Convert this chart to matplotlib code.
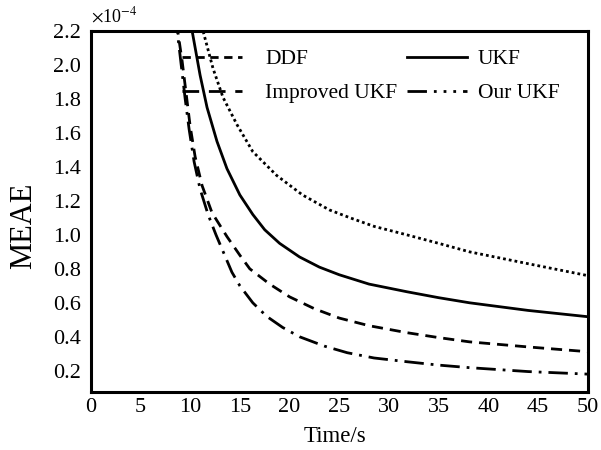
import matplotlib
matplotlib.use("Agg")
import matplotlib.pyplot as plt
from matplotlib.lines import Line2D

plt.rcParams['font.family'] = ['Liberation Serif', 'DejaVu Serif']
plt.rcParams['mathtext.fontset'] = 'stix'

# values (MEAE in units of 1e-4)
t_ddf = [8.5, 8.75, 9.2, 9.6, 10.0, 10.5, 11.2, 12.2, 13.7, 15, 16, 18, 20, 22.5, 25, 28, 31.8, 35, 38.1, 44, 50]
y_ddf = [2.35, 2.2, 2.02, 1.83, 1.64, 1.46, 1.29, 1.13, 0.99, 0.88, 0.80, 0.71, 0.635, 0.565, 0.51, 0.465, 0.424, 0.395, 0.37, 0.34, 0.312]

t_ukf = [10.0, 10.2, 11, 11.7, 12.7, 13.7, 15, 16.3, 17.5, 19, 21, 23, 25, 28, 31.8, 35, 38.1, 44, 50]
y_ukf = [2.3, 2.2, 1.94, 1.75, 1.55, 1.39, 1.235, 1.12, 1.03, 0.95, 0.87, 0.81, 0.765, 0.71, 0.665, 0.63, 0.60, 0.555, 0.518]

t_imp = [11.1, 11.3, 12.3, 13.3, 14.7, 16.3, 18.7, 21.3, 24, 26.1, 28.5, 31.8, 35, 38.1, 44, 50]
y_imp = [2.3, 2.2, 1.98, 1.81, 1.65, 1.49, 1.35, 1.235, 1.147, 1.10, 1.05, 1.0, 0.95, 0.90, 0.83, 0.76]

t_our = [8.5, 8.7, 9.1, 9.5, 9.9, 10.4, 11.0, 11.8, 12.6, 13.4, 14.2, 15, 16.3, 17.7, 19.3, 21, 23.5, 25.8, 28.5, 31.8, 35, 38.1, 44, 50]
y_our = [2.3, 2.2, 2.0, 1.80, 1.62, 1.43, 1.27, 1.12, 1.00, 0.89, 0.78, 0.70, 0.60, 0.52, 0.455, 0.40, 0.345, 0.306, 0.275, 0.253, 0.233, 0.218, 0.195, 0.18]

labels = ['DDF', 'UKF', 'Improved UKF', 'Our UKF']
yticks = [0.2, 0.4, 0.6, 0.8, 1.0, 1.2, 1.4, 1.6, 1.8, 2.0, 2.2]
xticks = [0, 5, 10, 15, 20, 25, 30, 35, 40, 45, 50]

fig = plt.figure(figsize=(6.01, 4.5), dpi=100)
ax = fig.add_axes([0.151, 0.129, 0.827, 0.802])

lw = 2.0
ax.plot(t_ddf, y_ddf, color='black', lw=lw, dashes=(4, 2.5))
ax.plot(t_ukf, y_ukf, color='black', lw=lw)
ax.plot(t_imp, y_imp, color='black', lw=lw, dashes=(1, 1.1))
ax.plot(t_our, y_our, color='black', lw=lw, dashes=(7, 2.5, 1, 2.5))

ax.set_xlim(0, 50)
ax.set_ylim(0.075, 2.2)
ax.set_xticks(xticks)
ax.set_yticks(yticks)
ax.set_yticklabels([f"{v:.1f}" for v in yticks])
ax.tick_params(length=0, labelsize=16)
ax.tick_params(axis='x', pad=4)
ax.tick_params(axis='y', pad=7)
for s in ax.spines.values():
    s.set_linewidth(2.2)

ax.set_xlabel('Time/s', fontsize=16.5)
ax.xaxis.set_label_coords(0.491, -0.095)
ax.set_ylabel('MEAE', fontsize=22)
ax.yaxis.set_label_coords(-0.105, 0.46)
ax.text(0.0, 1.015, r'$\times$10$^{-4}$', transform=ax.transAxes, fontsize=13,
        ha='left', va='bottom')

h_ddf = Line2D([], [], color='black', lw=lw, dashes=(3, 2))
h_imp = Line2D([], [], color='black', lw=lw, dashes=(6, 3.5))
h_ukf = Line2D([], [], color='black', lw=lw)
h_our = Line2D([], [], color='black', lw=lw, dashes=(7, 2.5, 1, 2.5, 1, 2.5, 1, 2.5))

leg_kw = dict(frameon=False, loc='upper left', borderpad=0, borderaxespad=0,
              fontsize=15.5, handlelength=2.8, labelspacing=0.65)
leg1 = ax.legend([h_ddf, h_imp], [labels[0], labels[2]], bbox_to_anchor=(0.183, 0.95),
                 handletextpad=1.07, **leg_kw)
ax.add_artist(leg1)
ax.legend([h_ukf, h_our], [labels[1], labels[3]], bbox_to_anchor=(0.636, 0.95),
          handletextpad=0.5, **leg_kw)

fig.savefig('out.png', dpi=100)
